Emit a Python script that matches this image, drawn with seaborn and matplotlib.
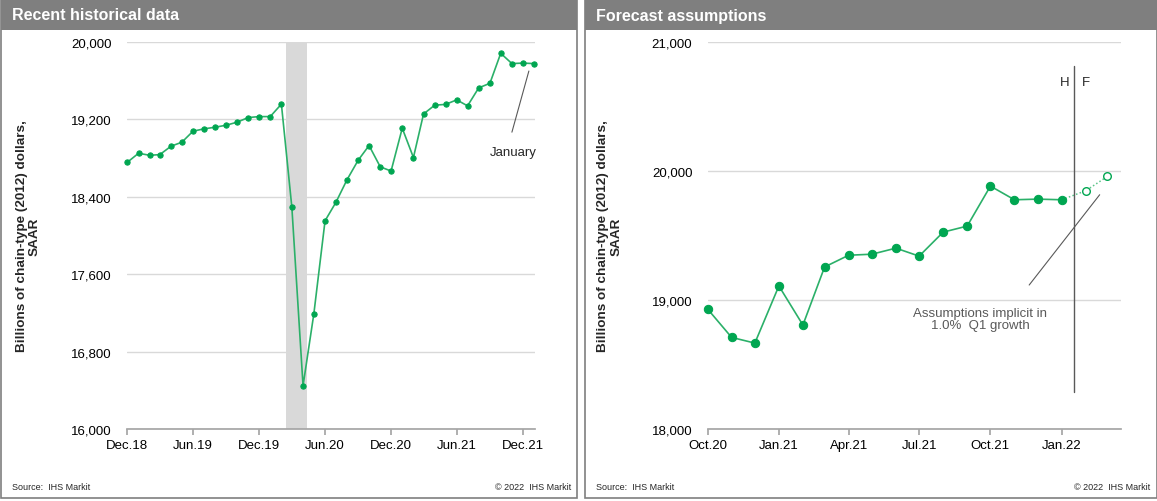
import pandas as pd
import matplotlib
matplotlib.use("Agg")
import matplotlib.pyplot as plt
import seaborn as sns
from matplotlib.patches import Rectangle

# Real GDP (monthly), billions of chain-type 2012 dollars, SAAR
hist_months = pd.date_range("2018-12-01", "2022-01-01", freq="MS")
hist_values = [18757, 18850, 18829, 18836, 18923, 18964, 19078, 19102, 19119, 19140,
               19171, 19219, 19229, 19229, 19358, 18291, 16447, 17192, 18152, 18342,
               18577, 18779, 18930, 18710, 18666, 19109, 18806, 19256, 19347, 19355,
               19402, 19340, 19526, 19573, 19883, 19777, 19782, 19777]

fcst_months = pd.to_datetime(["2022-01-01", "2022-02-01", "2022-03-01"])
fcst_values = [19777, 19847, 19958]

left_ticks = pd.to_datetime(["2018-12-01", "2019-06-01", "2019-12-01", "2020-06-01",
                             "2020-12-01", "2021-06-01", "2021-12-01"])
left_labels = ["Dec.18", "Jun.19", "Dec.19", "Jun.20", "Dec.20", "Jun.21", "Dec.21"]
right_ticks = pd.to_datetime(["2020-10-01", "2021-01-01", "2021-04-01", "2021-07-01",
                              "2021-10-01", "2022-01-01"])
right_labels = ["Oct.20", "Jan.21", "Apr.21", "Jul.21", "Oct.21", "Jan.22"]

hist = pd.DataFrame({"month": hist_months, "value": hist_values})
recent = hist[hist["month"] >= "2020-10-01"]

sns.set_theme(style="white")
plt.rcParams["font.family"] = ["Liberation Sans", "DejaVu Sans"]

W, H = 1157, 502
fig = plt.figure(figsize=(W / 100, H / 100), dpi=100)

LINE = "#2bb069"
DOT = "#00a651"
GRID = "#d9d9d9"
YLABEL = "Billions of chain-type (2012) dollars,\nSAAR"


def px_rect(x0, y0, x1, y1, **kw):
    fig.add_artist(Rectangle((x0 / W, 1 - y1 / H), (x1 - x0) / W, (y1 - y0) / H,
                             transform=fig.transFigure, **kw))


# panel frames and header bands
for x0, x1, title in [(0.5, 577, "Recent historical data"), (585, 1156.5, "Forecast assumptions")]:
    px_rect(x0, 0.5, x1, 499, facecolor="none", edgecolor="#7f7f7f", lw=1.2, zorder=0)
    px_rect(x0, 0, x1, 31, facecolor="#7f7f7f", edgecolor="none", zorder=0)
    fig.text((x0 + 11) / W, 1 - 16 / H, title, color="white", fontsize=11.5,
             fontweight="bold", va="center", ha="left")
    fig.text((x0 + 11) / W, 1 - 488 / H, "Source:  IHS Markit", fontsize=6.5, va="center")
    fig.text((x1 - 6) / W, 1 - 488 / H, "\u00a9 2022  IHS Markit", fontsize=6.5,
             va="center", ha="right")


def style_axes(ax):
    for s in ["top", "right", "left"]:
        ax.spines[s].set_visible(False)
    ax.spines["bottom"].set_color("#a6a6a6")
    ax.grid(axis="y", color=GRID, lw=1)
    ax.set_axisbelow(True)
    ax.tick_params(axis="y", length=0, pad=11, labelsize=9.5, labelcolor="black")
    ax.tick_params(axis="x", length=4, color="#a6a6a6", direction="out", pad=3,
                   labelsize=9.5, labelcolor="black", bottom=True)
    ax.set_xlabel("")
    ax.set_ylabel(YLABEL, fontsize=9.7, fontweight="bold", linespacing=1.1)


# ---- left panel: recent history
ax1 = fig.add_axes([127 / W, 1 - 430 / H, 408 / W, 387 / H])
ax1.axvspan(pd.Timestamp("2020-02-14"), pd.Timestamp("2020-04-12"), color="#d9d9d9",
            lw=0, zorder=1)
sns.lineplot(data=hist, x="month", y="value", ax=ax1, color=LINE, lw=1.2, marker="o",
             markersize=3.8, markerfacecolor=DOT, markeredgecolor=DOT, zorder=3,
             clip_on=False)
ax1.set_ylim(16000, 20000)
ax1.set_yticks([16000, 16800, 17600, 18400, 19200, 20000])
ax1.set_yticklabels([f"{v:,}" for v in ax1.get_yticks().astype(int)])
ax1.set_xlim(pd.Timestamp("2018-11-30"), pd.Timestamp("2022-01-04"))
ax1.set_xticks(left_ticks)
ax1.set_xticklabels(left_labels)
style_axes(ax1)
ax1.yaxis.set_label_coords(-0.211, 0.5)
ax1.plot(pd.to_datetime(["2021-11-01", "2021-12-18"]), [19068, 19700], color="#595959",
         lw=0.8)
ax1.text(pd.Timestamp("2021-11-04"), 18867, "January", fontsize=9.5, ha="center",
         va="center", color="#262626")

# ---- right panel: forecast assumptions
ax2 = fig.add_axes([707.6 / W, 1 - 430 / H, 413 / W, 387 / H])
sns.lineplot(x=fcst_months, y=fcst_values, ax=ax2, color="#5cc58a", lw=1.1,
             linestyle=(0, (1, 1.5)), zorder=2)
sns.scatterplot(x=fcst_months[1:], y=fcst_values[1:], ax=ax2, s=30, facecolor="white",
                edgecolor=DOT, linewidth=1, zorder=4)
sns.lineplot(data=recent, x="month", y="value", ax=ax2, color=LINE, lw=1.2, marker="o",
             markersize=6, markerfacecolor=DOT, markeredgecolor=DOT, zorder=3,
             clip_on=False)
ax2.set_ylim(18000, 21000)
ax2.set_yticks([18000, 19000, 20000, 21000])
ax2.set_yticklabels([f"{v:,}" for v in ax2.get_yticks().astype(int)])
ax2.set_xlim(pd.Timestamp("2020-10-01"), pd.Timestamp("2022-03-18"))
ax2.set_xticks(right_ticks)
ax2.set_xticklabels(right_labels)
style_axes(ax2)
ax2.yaxis.set_label_coords(-0.207, 0.5)

hf = pd.Timestamp("2022-01-17")
ax2.axvline(hf, ymin=0.096, ymax=0.938, color="#595959", lw=1, zorder=5)
ax2.text(pd.Timestamp("2022-01-05"), 20692, "H", fontsize=9.5, ha="center", va="center",
         color="#262626")
ax2.text(pd.Timestamp("2022-02-01"), 20692, "F", fontsize=9.5, ha="center", va="center",
         color="#262626")
ax2.plot(pd.to_datetime(["2021-11-20", "2022-02-19"]), [19116, 19816], color="#595959",
         lw=0.8)
ax2.text(pd.Timestamp("2021-09-18"), 18853, "Assumptions implicit in\n1.0%  Q1 growth",
         fontsize=9.5, ha="center", va="center", color="#595959", linespacing=1.1)

fig.savefig("out.png", dpi=100)
